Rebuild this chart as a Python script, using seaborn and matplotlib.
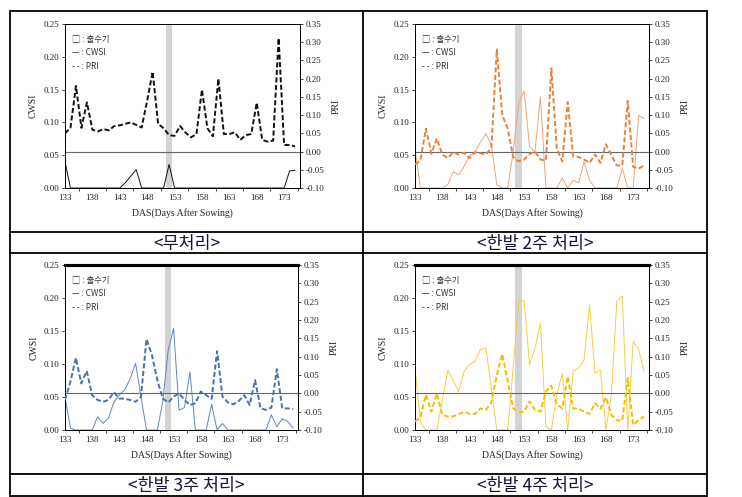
import matplotlib
matplotlib.use("Agg")
import matplotlib.pyplot as plt
import seaborn as sns
import numpy as np
import pandas as pd
from matplotlib.lines import Line2D

sns.set_theme(style="white")
plt.rcParams['font.family'] = ['Liberation Serif', 'DejaVu Sans']
plt.rcParams['axes.unicode_minus'] = False

days = list(range(133, 176))

# ---- 무처리 (control) ----
pri_1 = [0.050, 0.065, 0.180, 0.065, 0.135, 0.060, 0.055, 0.062, 0.058, 0.070,
         0.072, 0.076, 0.080, 0.073, 0.066, 0.140, 0.219, 0.076, 0.064, 0.045,
         0.043, 0.070, 0.052, 0.039, 0.048, 0.170, 0.064, 0.042, 0.200, 0.048,
         0.048, 0.053, 0.032, 0.045, 0.048, 0.134, 0.032, 0.027, 0.030, 0.311,
         0.018, 0.018, 0.014]
cwsi_1 = [0.040, 0.0, 0.0, 0.0, 0.0, 0.0, 0.0, 0.0, 0.0, 0.0,
          0.0, 0.008, 0.018, 0.028, 0.0, 0.0, 0.0, 0.0, 0.0, 0.036,
          0.0, 0.0, 0.0, 0.0, 0.0, 0.0, 0.0, 0.0, 0.0, 0.0,
          0.0, 0.0, 0.0, 0.0, 0.0, 0.0, 0.0, 0.0, 0.0, 0.0,
          0.0, 0.026, 0.027]

# ---- 한발 2주 처리 ----
pri_2 = [-0.035, -0.024, 0.063, -0.006, 0.036, -0.008, -0.018, -0.002, -0.008, -0.003,
         -0.018, -0.002, -0.005, -0.008, 0.010, 0.280, 0.100, 0.063, -0.015, -0.027,
         -0.022, -0.007, 0.000, -0.022, -0.024, 0.228, 0.008, -0.027, 0.136, -0.013,
         -0.015, -0.022, -0.031, -0.008, -0.031, 0.020, -0.010, -0.038, -0.038, 0.139,
         -0.042, -0.047, -0.038]
cwsi_2 = [0.060, 0.0, 0.0, 0.0, 0.0, 0.0, 0.005, 0.025, 0.020, 0.033,
          0.049, 0.055, 0.070, 0.083, 0.065, 0.005, 0.0, 0.0, 0.055, 0.129,
          0.148, 0.063, 0.055, 0.139, 0.0, 0.0, 0.0, 0.015, 0.0, 0.012,
          0.008, 0.040, 0.012, 0.0, 0.0, 0.0, 0.0, 0.0, 0.030, 0.0,
          0.0, 0.111, 0.106]

# ---- 한발 3주 처리 ----
pri_3 = [-0.018, 0.032, 0.097, 0.027, 0.061, -0.005, -0.018, -0.023, -0.018, 0.003,
         -0.014, -0.015, -0.018, -0.023, -0.009, 0.148, 0.105, 0.036, -0.014, -0.025,
         -0.009, 0.000, -0.018, -0.032, -0.027, 0.005, -0.005, -0.015, 0.115, -0.009,
         -0.025, -0.030, -0.021, -0.005, -0.032, 0.036, -0.041, -0.045, -0.039, 0.066,
         -0.041, -0.041, -0.043]
cwsi_3 = [0.050, 0.003, 0.0, 0.0, 0.0, 0.0, 0.020, 0.010, 0.018, 0.042,
          0.053, 0.061, 0.078, 0.101, 0.050, 0.0, 0.0, 0.0, 0.043, 0.121,
          0.154, 0.030, 0.034, 0.088, 0.0, 0.0, 0.0, 0.039, 0.0, 0.010,
          0.0, 0.0, 0.0, 0.0, 0.0, 0.0, 0.0, 0.0, 0.023, 0.005,
          0.017, 0.013, 0.003]

# ---- 한발 4주 처리 ----
pri_4 = [-0.077, -0.066, -0.004, -0.050, 0.000, -0.059, -0.063, -0.063, -0.057, -0.050,
         -0.056, -0.056, -0.041, -0.045, -0.025, 0.050, 0.107, 0.033, -0.041, -0.052,
         -0.050, -0.022, -0.045, -0.050, 0.005, 0.021, -0.030, -0.041, 0.046, -0.041,
         -0.042, -0.050, -0.056, -0.027, -0.042, -0.011, -0.059, -0.073, -0.075, 0.041,
         -0.086, -0.073, -0.063]
cwsi_4 = [0.094, 0.012, 0.0, 0.0, 0.0, 0.045, 0.091, 0.076, 0.058, 0.089,
          0.099, 0.104, 0.122, 0.124, 0.063, 0.0, 0.0, 0.0, 0.095, 0.195,
          0.196, 0.099, 0.124, 0.162, 0.005, 0.0, 0.053, 0.086, 0.0, 0.089,
          0.094, 0.106, 0.190, 0.086, 0.091, 0.0, 0.053, 0.195, 0.203, 0.0,
          0.134, 0.122, 0.089]

captions = ["<무처리>", "<한발 2주 처리>", "<한발 3주 처리>", "<한발 4주 처리>"]
legend_labels = ["□ : 출수기", "— : CWSI", "- - : PRI"]
cwsi_ticks = [0.00, 0.05, 0.10, 0.15, 0.20, 0.25]
pri_ticks = [-0.10, -0.05, 0.00, 0.05, 0.10, 0.15, 0.20, 0.25, 0.30, 0.35]
x_ticks = list(range(133, 174, 5))
heading_span = (151.4, 152.6)

panels = [
    dict(pri=pri_1, cwsi=cwsi_1, c_pri="#111111", c_cwsi="#111111", box=(65, 24, 300, 188), thick_top=False),
    dict(pri=pri_2, cwsi=cwsi_2, c_pri="#e8823c", c_cwsi="#eea47a", box=(415, 24, 649, 188), thick_top=False),
    dict(pri=pri_3, cwsi=cwsi_3, c_pri="#4a6fae", c_cwsi="#5d84c6", box=(65, 265, 298, 430), thick_top=True),
    dict(pri=pri_4, cwsi=cwsi_4, c_pri="#f0c000", c_cwsi="#f5cd45", box=(415, 265, 649, 430), thick_top=True),
]

W, H = 742, 497
fig = plt.figure(figsize=(W / 100, H / 100), dpi=100)
fig.patch.set_facecolor("white")

tick_fs = 6.5
for i, p in enumerate(panels):
    x0, y0, x1, y1 = p["box"]
    ax = fig.add_axes([x0 / W, 1 - y1 / H, (x1 - x0) / W, (y1 - y0) / H])
    ax.set_facecolor("none")
    ax2 = ax.twinx()
    df = pd.DataFrame({"DAS": days, "CWSI": p["cwsi"], "PRI": p["pri"]})

    ax.axvspan(*heading_span, color="#d3d3d3", lw=0, zorder=0)
    sns.lineplot(data=df, x="DAS", y="CWSI", ax=ax, color=p["c_cwsi"], linewidth=0.7, zorder=3)
    ax2.axhline(0, color="#666666", lw=0.8, zorder=1)
    sns.lineplot(data=df, x="DAS", y="PRI", ax=ax2, color=p["c_pri"], linewidth=1.4,
                 linestyle=(0, (2.6, 1.3)), zorder=4)

    ax.set_xlim(133, 175.9)
    ax.set_ylim(0, 0.25)
    ax2.set_ylim(-0.10, 0.35)
    ax.set_xticks(x_ticks)
    ax.set_xticks([t + 2.5 for t in x_ticks], minor=True)
    ax.set_xticklabels([str(t) for t in x_ticks], fontsize=tick_fs)
    ax.set_yticks(cwsi_ticks)
    ax.set_yticklabels([f"{t:.2f}" for t in cwsi_ticks], fontsize=tick_fs)
    ax2.set_yticks(pri_ticks)
    ax2.set_yticklabels([f"{t:.2f}" for t in pri_ticks], fontsize=tick_fs)
    for a in (ax, ax2):
        a.tick_params(axis="both", which="both", direction="out", length=2.5, width=0.6,
                      colors="#222222", pad=1.5)
        a.tick_params(axis="x", which="minor", length=2.5, bottom=True)
        for s in a.spines.values():
            s.set_color("black")
            s.set_linewidth(0.7)
        a.spines["top"].set_linewidth(2.2 if p["thick_top"] else 0.7)
        a.grid(False)
    ax.set_xlabel("DAS(Days After Sowing)", fontsize=7)
    ax.set_ylabel("CWSI", fontsize=7)
    ax2.set_ylabel("PRI", fontsize=7)
    ax.xaxis.set_label_coords(0.5, -0.12)
    ax.yaxis.set_label_coords(-0.115, 0.5)
    ax2.yaxis.set_label_coords(1.135, 0.5)
    ax2.yaxis.label.set_rotation(90)

    for k, (lab, yy) in enumerate(zip(legend_labels, [0.905, 0.825, 0.74])):
        ax.text(0.03, yy, lab, transform=ax.transAxes, fontsize=6, color="#333333",
                family=["Noto Sans CJK KR", "DejaVu Sans"], va="center", ha="left")

# table frame
def hline(y, xa=10, xb=707):
    fig.add_artist(Line2D([xa / W, xb / W], [1 - y / H, 1 - y / H], color="black", lw=1.3))

def vline(x, ya=11, yb=496):
    fig.add_artist(Line2D([x / W, x / W], [1 - ya / H, 1 - yb / H], color="black", lw=1.3))

for y in (11, 232, 253, 474, 496):
    hline(y)
for x in (10, 363, 707):
    vline(x)

cap_pos = [(186.5, 243.5), (535, 243.5), (186.5, 485.5), (535, 485.5)]
for cap, (cx, cy) in zip(captions, cap_pos):
    fig.text(cx / W, 1 - cy / H, cap, fontsize=12.5, color="#15153a", ha="center", va="center",
             family=["Noto Sans CJK KR", "DejaVu Sans"])

fig.savefig("out.png", dpi=100)
